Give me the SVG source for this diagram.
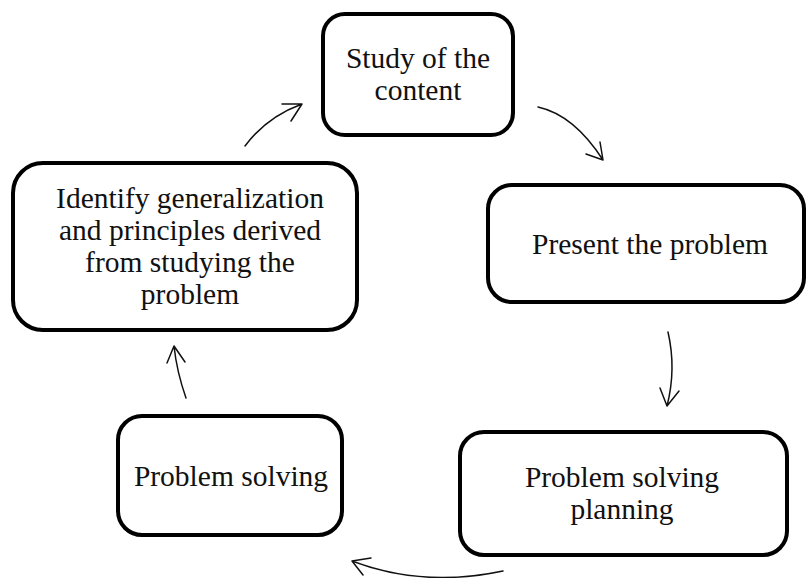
<svg xmlns="http://www.w3.org/2000/svg" width="806" height="578" viewBox="0 0 806 578">
<style>
.box{fill:#fff;stroke:#000;stroke-width:4}
.lbl{font-family:"Liberation Serif","Times New Roman",serif;font-size:29.5px;fill:#111;text-anchor:middle}
.arr{fill:none;stroke:#111;stroke-width:1.5;stroke-linecap:round;stroke-linejoin:round}
</style>
<rect width="806" height="578" fill="#fff"/>
<g id="connectors">
<path class="arr" d="M538,107 Q574,115 603,160 M600,142 L603,160 L586,154"/>
<path class="arr" d="M668,332 Q676.5,369 667,406 M660,388 L667,406 L679,391"/>
<path class="arr" d="M503,571 Q422.5,588 352,561 M371,558 L352,561 L363,575"/>
<path class="arr" d="M186,398 Q176.7,371.4 174,346 M167,363 L174,346 L185,362"/>
<path class="arr" d="M245,146 Q266.5,117 302,104 M282,104 L302,104 L291,121"/>
</g>
<g id="node-study">
<rect class="box" x="323" y="14" width="190" height="121" rx="22"/>
<text class="lbl" x="418" y="68">Study of the</text>
<text class="lbl" x="418" y="100">content</text>
</g>
<g id="node-present">
<rect class="box" x="488" y="185" width="316" height="117" rx="24"/>
<text class="lbl" x="650" y="254">Present the problem</text>
</g>
<g id="node-planning">
<rect class="box" x="460" y="432" width="327" height="123" rx="24"/>
<text class="lbl" x="622" y="487">Problem solving</text>
<text class="lbl" x="622" y="519">planning</text>
</g>
<g id="node-solving">
<rect class="box" x="118" y="416" width="224" height="119" rx="24"/>
<text class="lbl" x="231" y="486">Problem solving</text>
</g>
<g id="node-identify">
<rect class="box" x="13" y="163" width="344" height="167" rx="30"/>
<text class="lbl" x="190" y="208">Identify generalization</text>
<text class="lbl" x="190" y="240">and principles derived</text>
<text class="lbl" x="190" y="272">from studying the</text>
<text class="lbl" x="190" y="304">problem</text>
</g>
</svg>
